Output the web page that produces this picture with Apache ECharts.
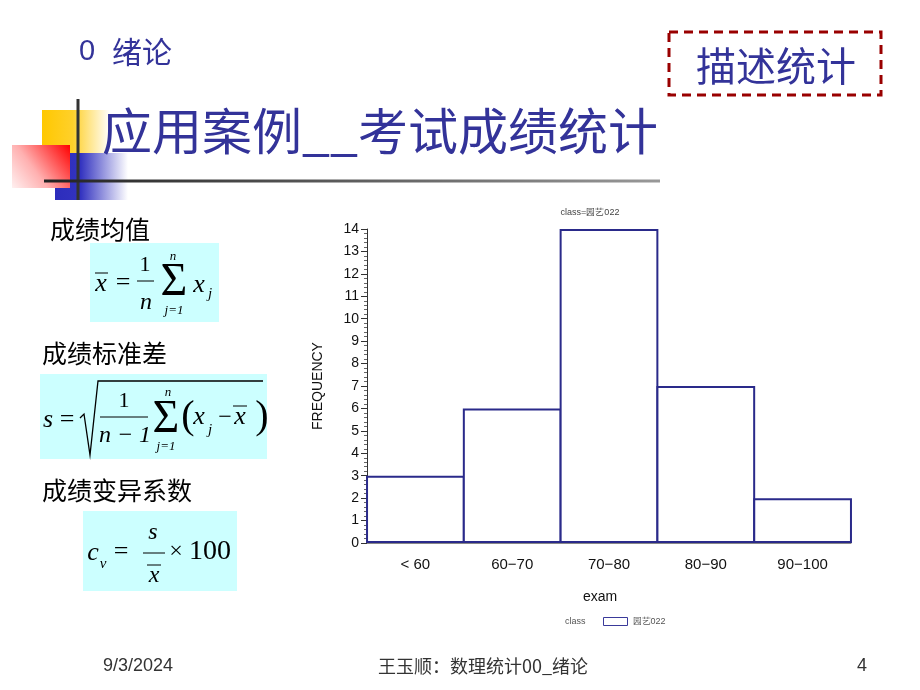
<!DOCTYPE html>
<html>
<head>
<meta charset="utf-8">
<script src="https://cdn.jsdelivr.net/npm/echarts@6/dist/echarts.min.js"></script>
<style>
html,body{margin:0;padding:0;background:#fff;}
#main{width:920px;height:690px;}
</style>
</head>
<body>
<div id="main"></div>
<script>
// ---- data ----
const categories = ['< 60', '60−70', '70−80', '80−90', '90−100'];
const frequency = [3, 6, 14, 7, 2];
const seriesName = '园艺022';
const chartTitle = 'class=园艺022';
const legendTitle = 'class';
const xAxisName = 'exam';
const yAxisName = 'FREQUENCY';
const yMin = 0, yMax = 14, yInterval = 1;

const NAVY = '#333399';
const SERIF = '"Liberation Serif","Times New Roman",serif';
const CJK = '"Noto Sans CJK SC",sans-serif';
const SANS = '"Liberation Sans",Arial,sans-serif';

function txt(text, x, y, o) {
  o = o || {};
  return {
    type: 'text', x: x, y: y, z: o.z || 10,
    style: {
      text: text,
      fill: o.color || '#000',
      font: (o.italic ? 'italic ' : '') + (o.size || 24) + 'px ' + (o.family || SERIF),
      textAlign: o.align || 'center',
      textVerticalAlign: 'middle'
    }
  };
}
function line(x1, y1, x2, y2, w, c) {
  return { type: 'line', z: 10, shape: { x1: x1, y1: y1, x2: x2, y2: y2 }, style: { stroke: c || '#000', lineWidth: w || 1 } };
}
function box(x, y, w, h, fill) {
  return { type: 'rect', z: 5, shape: { x: x, y: y, width: w, height: h }, style: { fill: fill } };
}

const graphics = [
  // decoration
  { type: 'rect', z: 1, shape: { x: 42, y: 110, width: 68, height: 44 },
    style: { fill: { type: 'linear', x: 0, y: 0, x2: 1, y2: 0, colorStops: [
      { offset: 0, color: '#ffc800' }, { offset: 0.45, color: '#ffd02a' }, { offset: 1, color: '#ffffff' }] } } },
  { type: 'rect', z: 2, shape: { x: 55, y: 153, width: 73, height: 47 },
    style: { fill: { type: 'linear', x: 0, y: 0, x2: 1, y2: 0, colorStops: [
      { offset: 0, color: '#2c2cbc' }, { offset: 0.35, color: '#3333c0' }, { offset: 1, color: '#ffffff' }] } } },
  { type: 'rect', z: 3, shape: { x: 12, y: 145, width: 58, height: 43 },
    style: { fill: { type: 'linear', x: 1, y: 0, x2: 0, y2: 1, colorStops: [
      { offset: 0, color: '#ff0000' }, { offset: 0.6, color: '#ffb0b0' }, { offset: 1, color: '#fff0f0' }] } } },
  { type: 'line', z: 4, shape: { x1: 78, y1: 99, x2: 78, y2: 200 }, style: { stroke: '#333333', lineWidth: 3 } },
  { type: 'line', z: 4, shape: { x1: 44, y1: 181, x2: 660, y2: 181 },
    style: { lineWidth: 3, stroke: { type: 'linear', x: 0, y: 0, x2: 1, y2: 0, colorStops: [
      { offset: 0, color: '#222222' }, { offset: 1, color: '#999999' }] } } },

  // headings
  txt('0', 79, 52, { size: 29, family: SANS, color: NAVY, align: 'left' }),
  txt('绪论', 112, 52, { size: 30, family: CJK, color: NAVY, align: 'left' }),
  txt('应用案例__考试成绩统计', 102, 131, { size: 50, family: CJK, color: NAVY, align: 'left' }),
  { type: 'rect', z: 5, shape: { x: 669, y: 32, width: 212, height: 63 },
    style: { fill: 'none', stroke: '#990000', lineWidth: 3, lineDash: [9, 6] } },
  txt('描述统计', 776, 66, { size: 40, family: CJK, color: NAVY }),

  // labels
  txt('成绩均值', 50, 229, { size: 25, family: CJK, align: 'left' }),
  txt('成绩标准差', 42, 353, { size: 25, family: CJK, align: 'left' }),
  txt('成绩变异系数', 42, 490, { size: 25, family: CJK, align: 'left' }),

  // formula 1
  box(90, 243, 129, 79, '#ccffff'),
  txt('x', 101, 284, { size: 26, italic: true }),
  line(95, 273, 108, 273, 1),
  txt('=', 123, 283, { size: 26 }),
  txt('1', 145, 265, { size: 22 }),
  line(137, 281, 154, 281, 1),
  txt('n', 146, 303, { size: 24, italic: true }),
  txt('Σ', 174, 283, { size: 46 }),
  txt('n', 173, 257, { size: 13, italic: true }),
  txt('j=1', 174, 311, { size: 13, italic: true }),
  txt('x', 199, 285, { size: 26, italic: true }),
  txt('j', 210, 294, { size: 15, italic: true }),

  // formula 2
  box(40, 374, 227, 85, '#ccffff'),
  txt('s', 48, 420, { size: 26, italic: true }),
  txt('=', 67, 420, { size: 26 }),
  { type: 'polyline', z: 10, shape: { points: [[80, 418], [84, 414], [90, 455], [98, 381], [263, 381]] },
    style: { stroke: '#000', lineWidth: 1.3, fill: null } },
  txt('1', 124, 401, { size: 22 }),
  line(100, 417, 148, 417, 1),
  txt('n − 1', 125, 436, { size: 24, italic: true }),
  txt('Σ', 166, 420, { size: 46 }),
  txt('n', 168, 393, { size: 13, italic: true }),
  txt('j=1', 166, 447, { size: 13, italic: true }),
  txt('(', 188, 417, { size: 40 }),
  txt('x', 199, 417, { size: 26, italic: true }),
  txt('j', 210, 430, { size: 15, italic: true }),
  txt('−', 225, 418, { size: 24 }),
  txt('x', 240, 417, { size: 26, italic: true }),
  line(233, 406, 247, 406, 1),
  txt(')', 262, 417, { size: 40 }),

  // formula 3
  box(83, 511, 154, 80, '#ccffff'),
  txt('c', 93, 553, { size: 26, italic: true }),
  txt('v', 103, 564, { size: 15, italic: true }),
  txt('=', 121, 552, { size: 26 }),
  txt('s', 153, 533, { size: 24, italic: true }),
  line(143, 553, 165, 553, 1),
  txt('x', 154, 576, { size: 24, italic: true }),
  line(147, 565, 161, 565, 1),
  txt('×', 176, 552, { size: 24 }),
  txt('100', 210, 552, { size: 28 }),

  // chart annotations
  txt(chartTitle, 590, 213, { size: 9, family: SANS, color: '#444' }),
  txt(legendTitle, 565, 622, { size: 9, family: SANS, color: '#555', align: 'left' }),

  // footer
  txt('9/3/2024', 138, 666, { size: 18, family: '"Liberation Sans Narrow",' + SANS, color: '#333' }),
  txt('王玉顺：数理统计00_绪论', 483, 666, { size: 18, family: CJK, color: '#333' }),
  txt('4', 862, 666, { size: 18, family: '"Liberation Sans Narrow",' + SANS, color: '#333' })
];

const chart = echarts.init(document.getElementById('main'), null, { renderer: 'canvas' });
chart.setOption({
  animation: false,
  backgroundColor: '#ffffff',
  grid: { left: 367, right: 69, top: 229, bottom: 147, containLabel: false },
  legend: {
    data: [seriesName], left: 598, top: 612, itemWidth: 24, itemHeight: 8, itemGap: 4,
    icon: 'rect',
    itemStyle: { color: '#ffffff', borderColor: '#3a3a9a', borderWidth: 1 },
    textStyle: { fontSize: 9, color: '#555', fontFamily: SANS }
  },
  xAxis: {
    type: 'category', data: categories,
    name: xAxisName, nameLocation: 'middle', nameGap: 47,
    nameTextStyle: { fontSize: 14, color: '#111', fontFamily: SANS, padding: [0, 18, 0, 0] },
    axisLine: { lineStyle: { color: '#888', width: 1 } },
    axisTick: { show: false },
    axisLabel: { fontSize: 15, color: '#111', fontFamily: SANS, margin: 14 }
  },
  yAxis: {
    type: 'value', min: yMin, max: yMax, interval: yInterval,
    name: yAxisName, nameLocation: 'middle', nameGap: 42, nameRotate: 90,
    nameTextStyle: { fontSize: 14, color: '#111', fontFamily: SANS },
    axisLine: { show: true, lineStyle: { color: '#333', width: 1 } },
    axisTick: { show: true, length: 6, lineStyle: { color: '#333' } },
    minorTick: { show: true, splitNumber: 5, length: 3, lineStyle: { color: '#666' } },
    splitLine: { show: false },
    axisLabel: { fontSize: 14, color: '#111', fontFamily: SANS, margin: 8 }
  },
  series: [{
    name: seriesName, type: 'bar', data: frequency,
    barWidth: '102%', barGap: 0,
    itemStyle: { color: '#ffffff', borderColor: '#2a2a8a', borderWidth: 2 },
    emphasis: { disabled: true }
  }],
  graphic: { elements: graphics }
});
</script>
</body>
</html>
